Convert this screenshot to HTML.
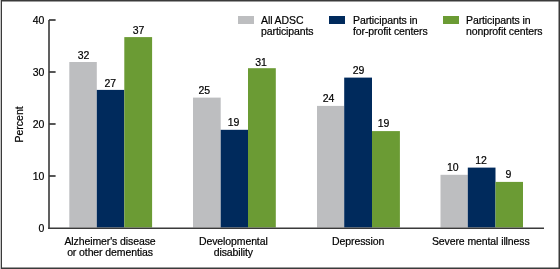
<!DOCTYPE html>
<html><head><meta charset="utf-8"><style>
html,body{margin:0;padding:0;background:#fff;}
.w{will-change:transform;width:560px;height:269px;}
svg{display:block;}
text{font-family:"Liberation Sans", sans-serif;font-size:10.5px;fill:#000;stroke:#000;stroke-width:0.2px;letter-spacing:-0.1px;}
</style></head><body><div class="w">
<svg width="560" height="269" viewBox="0 0 560 269">
<rect x="0" y="0" width="560" height="269" fill="#fff"/>
<rect x="0" y="0" width="1" height="269" fill="#c4c4c4"/>
<rect x="1" y="0" width="558.5" height="1.5" fill="#3a3a3a"/>
<rect x="1" y="0" width="1" height="269" fill="#3a3a3a"/>
<rect x="558.5" y="0" width="1.5" height="269" fill="#3a3a3a"/>
<rect x="1" y="267.5" width="559" height="1.5" fill="#3a3a3a"/>
<rect x="69.30" y="62.00" width="27.50" height="165.50" fill="#BDBEC0"/>
<rect x="96.80" y="89.90" width="27.50" height="137.60" fill="#002A5C"/>
<rect x="124.30" y="37.10" width="27.80" height="190.40" fill="#6B9B34"/>
<rect x="193.00" y="97.60" width="27.70" height="129.90" fill="#BDBEC0"/>
<rect x="220.70" y="129.80" width="27.30" height="97.70" fill="#002A5C"/>
<rect x="248.00" y="68.20" width="27.80" height="159.30" fill="#6B9B34"/>
<rect x="317.00" y="105.90" width="27.20" height="121.60" fill="#BDBEC0"/>
<rect x="344.20" y="77.60" width="27.80" height="149.90" fill="#002A5C"/>
<rect x="372.00" y="131.10" width="27.90" height="96.40" fill="#6B9B34"/>
<rect x="440.50" y="174.80" width="27.30" height="52.70" fill="#BDBEC0"/>
<rect x="467.80" y="167.60" width="27.70" height="59.90" fill="#002A5C"/>
<rect x="495.50" y="181.90" width="27.50" height="45.60" fill="#6B9B34"/>
<text x="83.40" y="58.50" text-anchor="middle">32</text>
<text x="110.15" y="86.70" text-anchor="middle">27</text>
<text x="138.40" y="33.60" text-anchor="middle">37</text>
<text x="204.35" y="93.90" text-anchor="middle">25</text>
<text x="233.50" y="125.80" text-anchor="middle">19</text>
<text x="261.00" y="65.50" text-anchor="middle">31</text>
<text x="328.40" y="102.20" text-anchor="middle">24</text>
<text x="358.45" y="74.10" text-anchor="middle">29</text>
<text x="383.40" y="127.30" text-anchor="middle">19</text>
<text x="452.75" y="171.40" text-anchor="middle">10</text>
<text x="481.05" y="164.00" text-anchor="middle">12</text>
<text x="508.30" y="177.80" text-anchor="middle">9</text>
<rect x="48.2" y="20" width="1.6" height="209" fill="#3a3a3a"/>
<rect x="48.2" y="227.5" width="495.8" height="1.5" fill="#3a3a3a"/>
<text x="44.2" y="231.80" text-anchor="end">0</text>
<rect x="49" y="175.15" width="6.6" height="1.7" fill="#3a3a3a"/>
<text x="44.2" y="179.80" text-anchor="end">10</text>
<rect x="49" y="123.15" width="6.6" height="1.7" fill="#3a3a3a"/>
<text x="44.2" y="127.80" text-anchor="end">20</text>
<rect x="49" y="71.15" width="6.6" height="1.7" fill="#3a3a3a"/>
<text x="44.2" y="75.80" text-anchor="end">30</text>
<rect x="49" y="19.15" width="6.6" height="1.7" fill="#3a3a3a"/>
<text x="44.2" y="23.80" text-anchor="end">40</text>
<text x="110.00" y="244.50" text-anchor="middle">Alzheimer's disease</text>
<text x="110.00" y="255.80" text-anchor="middle">or other dementias</text>
<text x="233.30" y="244.50" text-anchor="middle">Developmental</text>
<text x="233.30" y="255.80" text-anchor="middle">disability</text>
<text x="358.10" y="244.50" text-anchor="middle">Depression</text>
<text x="480.80" y="244.50" text-anchor="middle">Severe mental illness</text>

<rect x="238" y="16" width="16" height="8" fill="#BDBEC0"/>
<text x="261" y="24">All ADSC</text><text x="261" y="35">participants</text>
<rect x="329" y="16" width="16" height="8" fill="#002A5C"/>
<text x="353" y="24">Participants in</text><text x="353" y="35">for-profit centers</text>
<rect x="443" y="16" width="16" height="8" fill="#6B9B34"/>
<text x="466" y="24">Participants in</text><text x="466" y="35">nonprofit centers</text>

<text transform="translate(22.7,124.4) rotate(-90)" text-anchor="middle" style="letter-spacing:0px">Percent</text>
</svg></div>
</body></html>
